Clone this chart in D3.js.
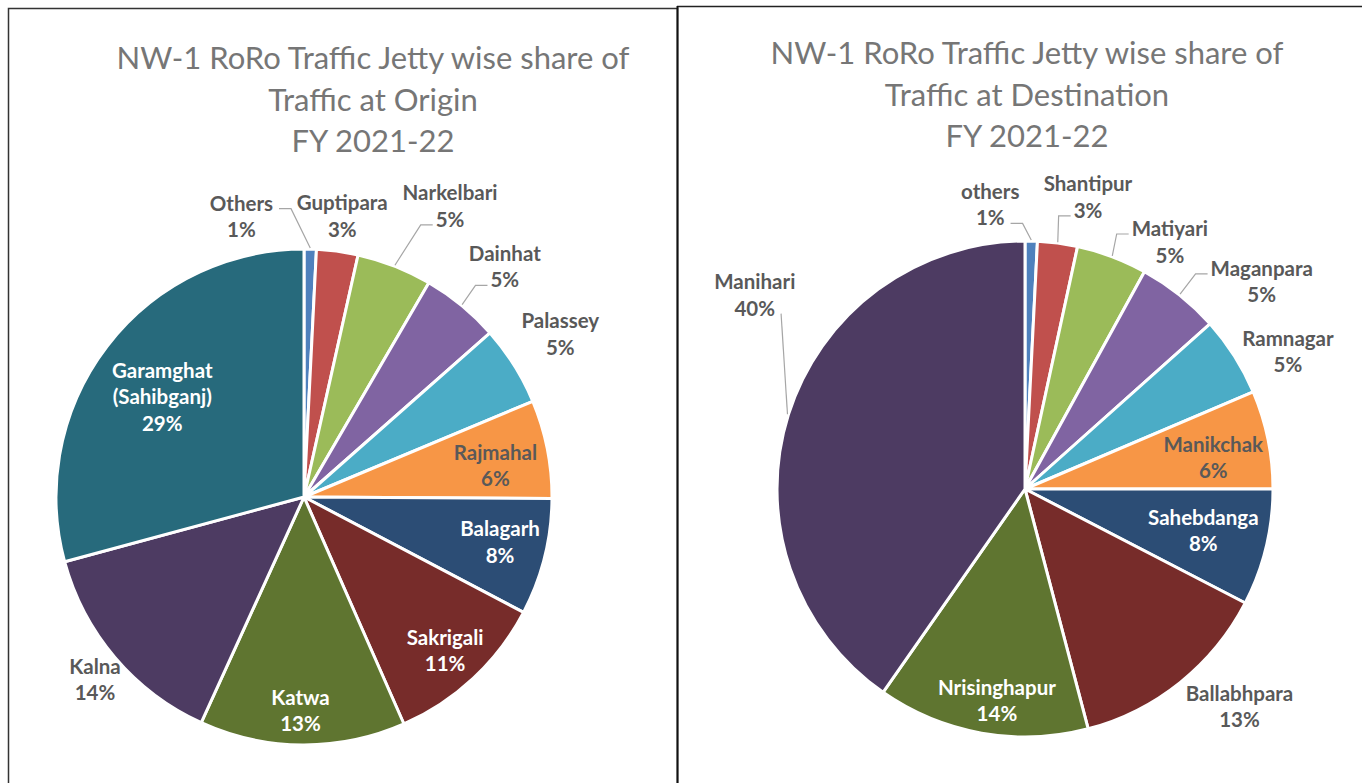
<!DOCTYPE html>
<html lang="en">
<head>
    <meta charset="UTF-8">
    <title>NW-1 RoRo Traffic Jetty wise share</title>
    <script src="https://cdnjs.cloudflare.com/ajax/libs/d3/7.8.5/d3.min.js"></script>
    <style>
        body { margin: 0; background: #fff; }
        svg { display: block; }
        text { font-family: Lato, "Open Sans", sans-serif; }
    </style>
</head>
<body>
<svg id="chart" width="1362" height="783"></svg>
<script>
// ---- data: origin ----
var originTitle = ["NW-1 RoRo Traffic Jetty wise share of", "Traffic at Origin", "FY 2021-22"];
var originJetties = ["Others", "Guptipara", "Narkelbari", "Dainhat", "Palassey", "Rajmahal",
    "Balagarh", "Sakrigali", "Katwa", "Kalna", "Garamghat\n(Sahibganj)"];
var originShare = [0.8, 2.7, 4.9, 5.1, 5.2, 6.4, 7.6, 10.7, 13.4, 14.0, 29.2];

// ---- data: destination ----
var destTitle = ["NW-1 RoRo Traffic Jetty wise share of", "Traffic at Destination", "FY 2021-22"];
var destJetties = ["others", "Shantipur", "Matiyari", "Maganpara", "Ramnagar", "Manikchak",
    "Sahebdanga", "Ballabhpara", "Nrisinghapur", "Manihari"];
var destShare = [0.8, 2.6, 4.6, 5.4, 5.2, 6.4, 7.6, 13.3, 13.8, 40.3];

// slice colours (office theme order)
var originColors = ["#4f81bd", "#c0504d", "#9bbb59", "#8064a2", "#4bacc6", "#f79646",
    "#2c4d75", "#772c2a", "#5f7530", "#4d3b62", "#276a7c"];
var destColors = ["#4f81bd", "#c0504d", "#9bbb59", "#8064a2", "#4bacc6", "#f79646",
    "#2c4d75", "#772c2a", "#5f7530", "#4d3b62"];

// label placement: [angle shift from slice middle (deg), distance from centre (px), leader, white text?]
// leader: "r"/"l" = label right/left of the line, digit = which text line it meets
var originLabels = [[-14, 288, "l0", 0], [0, 284, "", 0], [5.2, 326, "r1", 0], [1.6, 306, "r1", 0],
    [-0.5, 304, "", 0], [1.7, 194, "", 0], [-1.3, 201, "", 1], [0.3, 208, "", 1],
    [0.6, 213, "", 1], [-0.7, 277, "", 0], [-2, 174, "", 1]];
var destLabels = [[-8.4, 287, "l1", 0], [4.6, 299, "r1", 0], [9.8, 287, "r0", 0], [10.2, 315, "r0", 0],
    [4.7, 297, "", 0], [1.8, 191, "", 0], [-0.7, 183, "", 1], [-6, 305, "", 0],
    [-2.5, 213, "", 1], [18.3, 333, "l1", 0]];

var svg = d3.select("#chart");

// panel frames
svg.append("rect").attr("x", 8.5).attr("y", 8.5).attr("width", 669).attr("height", 800)
    .attr("fill", "none").attr("stroke", "#333").attr("stroke-width", 1.5);
svg.append("line").attr("x1", 677).attr("y1", 6.5).attr("x2", 1362).attr("y2", 6.5)
    .attr("stroke", "#222").attr("stroke-width", 1.5);
svg.append("line").attr("x1", 677.5).attr("y1", 6).attr("x2", 677.5).attr("y2", 783)
    .attr("stroke", "#111").attr("stroke-width", 2);

function drawPie(opt) {
    var g = svg.append("g");
    var R = 248;

    // title
    var title = g.append("text").attr("text-anchor", "middle").attr("fill", "#767676")
        .style("font-size", "31px");
    title.selectAll("tspan").data(opt.title).enter().append("tspan")
        .attr("x", opt.titleX)
        .attr("y", function(d, i) { return opt.titleY + i * 41.5; })
        .text(function(d) { return d; });

    var pie = d3.pie().sort(null).value(function(d) { return d; });
    var arcs = pie(opt.values);
    var arc = d3.arc().innerRadius(0).outerRadius(R);
    var total = d3.sum(opt.values);

    var pieG = g.append("g").attr("transform", "translate(" + opt.cx + "," + opt.cy + ")");
    pieG.selectAll("path").data(arcs).enter().append("path")
        .attr("d", arc)
        .attr("fill", function(d, i) { return opt.colors[i]; })
        .attr("stroke", "#fff").attr("stroke-width", 3).attr("stroke-linejoin", "round");

    function polar(a, r) { return [Math.sin(a) * r, -Math.cos(a) * r]; }

    arcs.forEach(function(d, i) {
        var lay = opt.labels[i];
        var mid = (d.startAngle + d.endAngle) / 2;
        var p = polar(mid + lay[0] * Math.PI / 180, lay[1]);
        var lines = opt.names[i].split("\n");
        lines.push(Math.round(d.value / total * 100) + "%");
        var lh = 26.5;
        var y0 = p[1] - (lines.length - 1) * lh / 2;
        var t = pieG.append("text").attr("text-anchor", "middle")
            .attr("fill", lay[3] ? "#fff" : "#595959")
            .style("font-size", "20.5px").style("font-weight", "bold");
        var spans = t.selectAll("tspan").data(lines).enter().append("tspan")
            .attr("x", p[0])
            .attr("y", function(l, k) { return y0 + k * lh; })
            .attr("dominant-baseline", "central")
            .text(function(l) { return l; });

        if (lay[2]) {
            var side = lay[2][0];
            var k = +lay[2][1];
            var w = spans.nodes()[k].getComputedTextLength();
            var ay = y0 + k * lh + 6;
            var ax = side === "r" ? p[0] - w / 2 - 3 : p[0] + w / 2 + 6;
            var e = polar(mid, R + 1);
            var pts = [[ax, ay]];
            if (Math.abs(e[0] - ax) > Math.abs(e[1] - ay) / 3) {
                pts.push([ax + (side === "r" ? -12 : 12), ay]);
            }
            pts.push(e);
            pieG.append("path").attr("d", d3.line()(pts))
                .attr("fill", "none").attr("stroke", "#a6a6a6").attr("stroke-width", 1.2);
        }
    });
}

drawPie({ title: originTitle, titleX: 373, titleY: 69, cx: 304, cy: 497,
    values: originShare, names: originJetties, colors: originColors, labels: originLabels });
drawPie({ title: destTitle, titleX: 1027, titleY: 64, cx: 1025, cy: 489,
    values: destShare, names: destJetties, colors: destColors, labels: destLabels });
</script>
</body>
</html>
